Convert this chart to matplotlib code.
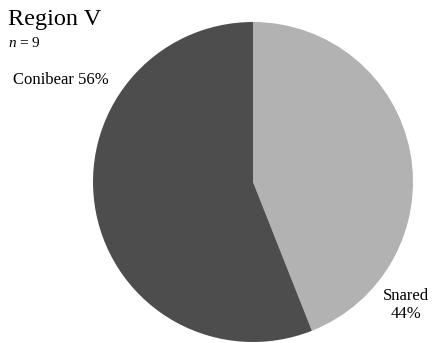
import matplotlib.pyplot as plt

# Region V capture method
categories = ["Snared", "Conibear"]
shares = [44, 56]
colors = ["#b2b2b2", "#4d4d4d"]
title = "Region V"
n_total = 9

plt.rcParams['font.family'] = ['Liberation Serif', 'DejaVu Serif']
plt.rcParams['mathtext.fontset'] = 'custom'
plt.rcParams['mathtext.it'] = 'Liberation Serif:italic'
plt.rcParams['mathtext.rm'] = 'Liberation Serif'

W, H = 436, 343
fig = plt.figure(figsize=(W / 100, H / 100), dpi=100)

# square axes holding the pie (pixel box: x 93..413, y 22..342)
ax = fig.add_axes([93 / W, 1 / H, 320 / W, 320 / H])
ax.pie(shares, colors=colors, startangle=90, counterclock=False,
       radius=1.0, wedgeprops=dict(linewidth=0))
ax.set_xlim(-1, 1)
ax.set_ylim(-1, 1)
ax.set_aspect('equal')
ax.axis('off')

fig.text(8 / W, 1 - 20 / H, title, fontsize=17.5, ha='left', va='center')
fig.text(8 / W, 1 - 43 / H, f"$\\it{{n}}$ = {n_total}", fontsize=11,
         ha='left', va='center')

fig.text(13 / W, 1 - 80 / H, f"{categories[1]} {shares[1]}%", fontsize=12,
         ha='left', va='center')
fig.text(406 / W, 1 - 305 / H, f"{categories[0]}\n{shares[0]}%", fontsize=12,
         ha='center', va='center', linespacing=1.2)

fig.savefig("out.png", dpi=100)
